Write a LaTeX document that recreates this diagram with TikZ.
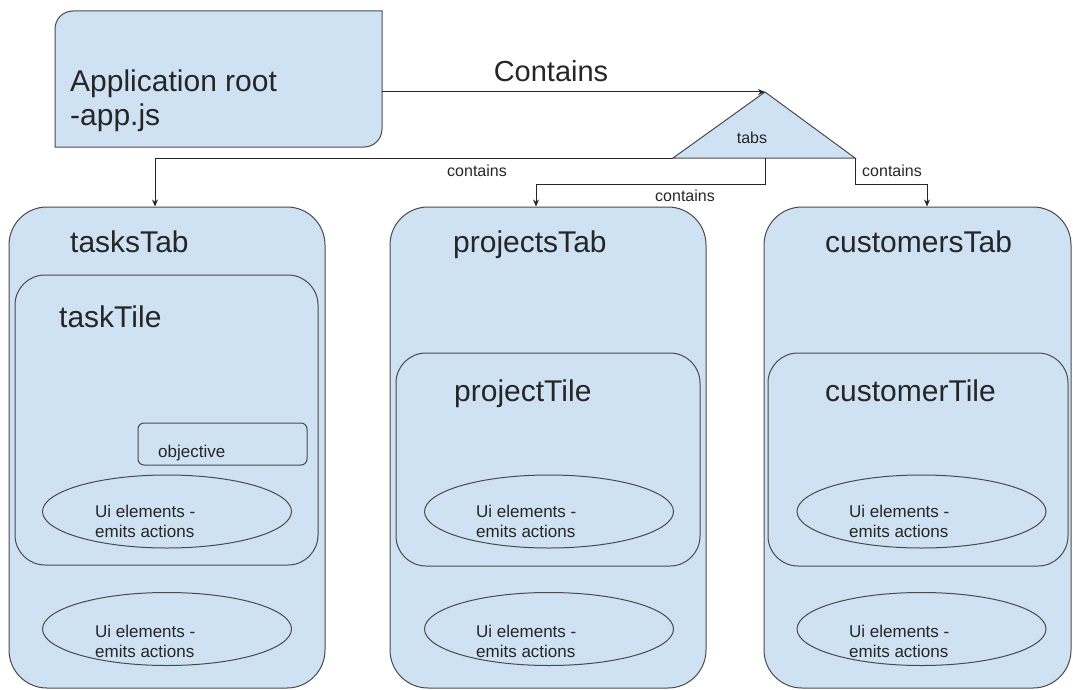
\documentclass[tikz,border=0pt]{standalone}
\usepackage{fontspec}
\setmainfont{Liberation Sans}
\usetikzlibrary{arrows.meta,calc,shapes.geometric}
\definecolor{boxfill}{HTML}{CFE2F3}
\definecolor{boxline}{HTML}{4A4A4A}
\definecolor{ink}{HTML}{262626}
\begin{document}
\begin{tikzpicture}[x=1pt,y=-1pt,
  panel/.style={draw=boxline, fill=boxfill, line width=1pt, rounded corners=38pt, inner sep=0pt},
  tile/.style={draw=boxline, fill=boxfill, line width=1pt, rounded corners=30pt, inner sep=0pt},
  uiel/.style={ellipse, draw=boxline, line width=1pt, inner sep=0pt, minimum width=249pt, minimum height=73pt},
  tag/.style={draw=boxline, line width=1pt, rounded corners=6pt, inner sep=0pt},
  big/.style={font=\fontsize{30}{33}\selectfont, text=ink, inner sep=0pt, anchor=base west},
  small/.style={font=\fontsize{17}{20}\selectfont, text=ink, inner sep=0pt, anchor=base west},
  note/.style={font=\fontsize{16}{20}\selectfont, text=ink, inner sep=0pt, anchor=base},
  link/.style={draw=ink, line width=1pt, -{Stealth[length=7pt,width=6pt]}}]

\useasboundingbox (0,0) rectangle (1073,690);

% application root box: rounded top-left and bottom-right corners
\node[inner sep=0pt, minimum width=327pt, minimum height=136pt] (app) at (218.5,79) {};
\draw[draw=boxline, fill=boxfill, line width=1pt]
  (55,147) -- (55,29) .. controls (55,19.1) and (62.9,11) .. (73,11)
  -- (382,11) -- (382,129) .. controls (382,138.9) and (374.1,147) .. (364,147) -- cycle;
\node[big] (app1) at (70,92) {Application root};
\node[big] (app2) at (70,125) {-app.js};

% tabs triangle
\coordinate (tabsTop) at (765,92);
\coordinate (tabsL) at (673,158);
\coordinate (tabsR) at (855,158);
\coordinate (tabsMid) at (765,158);
\draw[draw=boxline, fill=boxfill, line width=1pt] (tabsTop) -- (tabsR) -- (tabsL) -- cycle;
\node[note] (tabs) at (752,143) {tabs};

% tab panels
\node[panel, minimum width=316pt, minimum height=481pt] (tasksTab) at (167,447.5) {};
\node[panel, minimum width=316pt, minimum height=481pt] (projectsTab) at (548,447.5) {};
\node[panel, minimum width=307pt, minimum height=481pt] (customersTab) at (917.5,447.5) {};

% tiles
\node[tile, minimum width=303pt, minimum height=290pt] (taskTile) at (166.5,420) {};
\node[tile, minimum width=304pt, minimum height=213pt] (projectTile) at (548,459.5) {};
\node[tile, minimum width=300pt, minimum height=213pt] (customerTile) at (918,459.5) {};

% objective box
\node[tag, minimum width=169pt, minimum height=42pt] (objective) at (222.5,444) {};
\node[small] (objectiveText) at (158,457) {objective};

% ui element ellipses
\node[uiel] (taskUi) at (167,511.5) {};
\node[uiel] (tasksUi) at (167,629) {};
\node[uiel] (projectUi) at (549,511.5) {};
\node[uiel] (projectsUi) at (549,629) {};
\node[uiel] (customerUi) at (921.5,511.5) {};
\node[uiel] (customersUi) at (921.5,629) {};

\node[small] (taskUiA) at (95,517) {Ui elements -};
\node[small] (taskUiB) at (95,537) {emits actions};
\node[small] (tasksUiA) at (95,637) {Ui elements -};
\node[small] (tasksUiB) at (95,657) {emits actions};
\node[small] (projectUiA) at (476,517) {Ui elements -};
\node[small] (projectUiB) at (476,537) {emits actions};
\node[small] (projectsUiA) at (476,637) {Ui elements -};
\node[small] (projectsUiB) at (476,657) {emits actions};
\node[small] (customerUiA) at (849,517) {Ui elements -};
\node[small] (customerUiB) at (849,537) {emits actions};
\node[small] (customersUiA) at (849,637) {Ui elements -};
\node[small] (customersUiB) at (849,657) {emits actions};

% titles
\node[big] (tasksTitle) at (70,252) {tasksTab};
\node[big] (projectsTitle) at (453,252) {projectsTab};
\node[big] (customersTitle) at (825,252) {customersTab};
\node[big] (taskTitle) at (59,327) {taskTile};
\node[big] (projectTitle) at (454,401) {projectTile};
\node[big] (customerTitle) at (825,401) {customerTile};

% connectors
\draw[link] (app.east |- tabsTop) -- (tabsTop);
\node[font=\fontsize{29}{33}\selectfont, text=ink, inner sep=0pt, anchor=base] (containsMain) at (551,82) {Contains};

\draw[link] (tabsL) -| ([xshift=-12pt]tasksTab.north);
\draw[link] (tabsMid) -- (765,184) -| ([xshift=-12pt]projectsTab.north);
\draw[link] (tabsR) -- (855,184) -| ([xshift=9.5pt]customersTab.north);

\node[note] (containsA) at (477,176) {contains};
\node[note] (containsB) at (685,201) {contains};
\node[note, anchor=base west] (containsC) at (862,176) {contains};
\end{tikzpicture}
\end{document}
